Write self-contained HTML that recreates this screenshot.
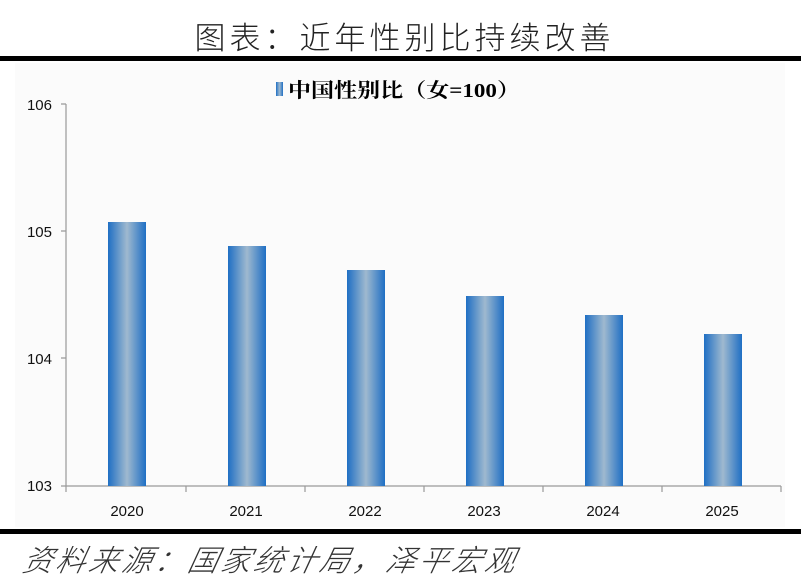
<!DOCTYPE html>
<html><head><meta charset="utf-8"><style>
body{margin:0;width:801px;height:585px;background:#fff;overflow:hidden;position:relative;font-family:"Liberation Sans","Noto Sans CJK SC",sans-serif}
.t{position:absolute;left:4px;width:801px;text-align:center;top:13px;font-size:31px;font-weight:300;color:#222;letter-spacing:4px}
.ln{position:absolute;left:0;width:801px;height:5px;background:#000}
.src{position:absolute;left:24px;top:536px;font-size:30px;font-style:italic;color:#333;transform:skewX(-12deg);letter-spacing:3px;font-weight:300}
</style></head><body>
<div class="t">图表：近年性别比持续改善</div>
<div class="ln" style="top:56px"></div>
<svg style="position:absolute;left:0;top:0" width="801" height="585">
<defs><linearGradient id="g" x1="0" x2="1" y1="0" y2="0">
<stop offset="0" stop-color="#1f6fc4"/><stop offset="0.5" stop-color="#9fb9cf"/><stop offset="1" stop-color="#1f6fc4"/></linearGradient></defs>
<rect x="15" y="63" width="770" height="464" fill="#fbfbfb"/>
<rect x="276" y="82" width="7" height="14" fill="url(#g)"/>
<text x="288" y="97" font-size="20" font-weight="bold" textLength="232" lengthAdjust="spacingAndGlyphs" font-family="Liberation Serif,Noto Serif CJK SC,serif">中国性别比（女=100）</text>
<g stroke="#999" stroke-width="1.2" fill="none">
<path d="M66 104V486M61 104H66M61 231H66M61 358H66M61 486H781"/>
<path d="M66 486v6M186 486v6M305 486v6M424 486v6M543 486v6M662 486v6M781 486v6"/>
</g>
<g font-size="15" fill="#111" text-anchor="end">
<text x="52" y="110">106</text><text x="52" y="237">105</text><text x="52" y="364">104</text><text x="52" y="491">103</text></g>
<g fill="url(#g)">
<rect x="108" y="222" width="38" height="264"/>
<rect x="228" y="246" width="38" height="240"/>
<rect x="347" y="270" width="38" height="216"/>
<rect x="466" y="296" width="38" height="190"/>
<rect x="585" y="315" width="38" height="171"/>
<rect x="704" y="334" width="38" height="152"/>
</g>
<g font-size="15" fill="#111" text-anchor="middle">
<text x="127" y="516">2020</text><text x="246" y="516">2021</text><text x="365" y="516">2022</text><text x="484" y="516">2023</text><text x="603" y="516">2024</text><text x="722" y="516">2025</text></g>
</svg>
<div class="ln" style="top:529px"></div>
<div class="src">资料来源：国家统计局，泽平宏观</div>
</body></html>
